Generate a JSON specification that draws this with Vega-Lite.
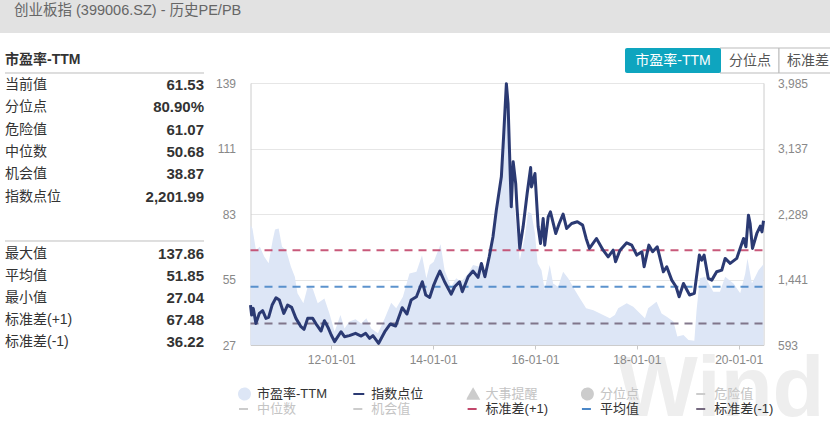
{"$schema":"https://vega.github.io/schema/vega-lite/v6.json","padding":0,"autosize":{"type":"none"},"width":830,"height":422,"background":"#ffffff","config":{"view":{"stroke":null},"font":"Liberation Sans, Noto Sans CJK SC"},"resolve":{"scale":{"x":"independent","y":"independent"}},"datasets":{"pe":[{"date":"2010-06-01","v":78.2},{"date":"2010-06-15","v":76.8},{"date":"2010-07-10","v":67.6},{"date":"2010-08-07","v":69},{"date":"2010-09-08","v":64.7},{"date":"2010-10-09","v":61.9},{"date":"2010-11-07","v":71.8},{"date":"2010-11-24","v":76.4},{"date":"2010-12-20","v":76.8},{"date":"2011-01-13","v":69},{"date":"2011-02-11","v":67.6},{"date":"2011-03-18","v":60.4},{"date":"2011-04-15","v":56.2},{"date":"2011-05-04","v":49.1},{"date":"2011-06-15","v":44.8},{"date":"2011-07-16","v":51.9},{"date":"2011-08-21","v":51.2},{"date":"2011-09-26","v":44.8},{"date":"2011-11-13","v":46.9},{"date":"2011-12-19","v":40.5},{"date":"2012-01-25","v":32.7},{"date":"2012-03-07","v":39.8},{"date":"2012-04-05","v":34.1},{"date":"2012-05-10","v":37},{"date":"2012-06-23","v":38},{"date":"2012-08-03","v":36.2},{"date":"2012-09-09","v":38.4},{"date":"2012-10-14","v":34.1},{"date":"2012-12-01","v":32},{"date":"2013-01-19","v":38.4},{"date":"2013-03-06","v":45.1},{"date":"2013-04-11","v":42.7},{"date":"2013-05-29","v":47.6},{"date":"2013-07-15","v":57.6},{"date":"2013-09-03","v":58.3},{"date":"2013-10-13","v":65.4},{"date":"2013-11-13","v":55.5},{"date":"2013-12-07","v":61.2},{"date":"2014-01-05","v":62.6},{"date":"2014-02-23","v":70.1},{"date":"2014-03-24","v":59},{"date":"2014-05-10","v":51.9},{"date":"2014-06-15","v":55.5},{"date":"2014-07-21","v":54},{"date":"2014-09-09","v":57.6},{"date":"2014-10-14","v":61.2},{"date":"2014-12-01","v":60.4},{"date":"2015-01-07","v":57.6},{"date":"2015-02-12","v":64.7},{"date":"2015-03-30","v":84.6},{"date":"2015-05-05","v":97.4},{"date":"2015-05-21","v":115.9},{"date":"2015-06-10","v":137.86},{"date":"2015-06-28","v":115.9},{"date":"2015-07-15","v":90.3},{"date":"2015-08-09","v":84.6},{"date":"2015-09-14","v":63.3},{"date":"2015-10-20","v":73.2},{"date":"2015-11-13","v":83.9},{"date":"2015-12-07","v":83.2},{"date":"2016-01-01","v":74.7},{"date":"2016-01-20","v":61.9},{"date":"2016-02-17","v":59},{"date":"2016-03-11","v":50.5},{"date":"2016-04-16","v":61.2},{"date":"2016-05-10","v":53.3},{"date":"2016-06-15","v":51.9},{"date":"2016-07-21","v":58.3},{"date":"2016-08-26","v":55.5},{"date":"2016-10-13","v":50.5},{"date":"2016-11-19","v":46.9},{"date":"2017-01-02","v":42.7},{"date":"2017-02-23","v":41.9},{"date":"2017-05-04","v":39.8},{"date":"2017-06-21","v":38.4},{"date":"2017-07-27","v":39.8},{"date":"2017-08-20","v":42.7},{"date":"2017-10-20","v":44.8},{"date":"2017-12-06","v":43.4},{"date":"2018-01-24","v":40.5},{"date":"2018-02-28","v":38.4},{"date":"2018-03-23","v":42.7},{"date":"2018-05-22","v":45.5},{"date":"2018-06-27","v":40.5},{"date":"2018-08-03","v":39.1},{"date":"2018-09-20","v":37},{"date":"2018-10-18","v":30.6},{"date":"2018-12-01","v":31.3},{"date":"2019-01-06","v":29.1},{"date":"2019-02-17","v":28.8},{"date":"2019-03-05","v":41.9},{"date":"2019-03-29","v":55.5},{"date":"2019-05-04","v":56.2},{"date":"2019-07-03","v":49.8},{"date":"2019-08-20","v":49.8},{"date":"2019-09-26","v":56.2},{"date":"2019-11-25","v":53.3},{"date":"2020-01-12","v":49.1},{"date":"2020-02-17","v":57.6},{"date":"2020-03-04","v":64},{"date":"2020-04-05","v":53.3},{"date":"2020-05-22","v":59},{"date":"2020-06-27","v":61.53}],"idx":[{"date":"2010-06-01","v":1110},{"date":"2010-06-09","v":981},{"date":"2010-06-21","v":1067},{"date":"2010-07-10","v":873},{"date":"2010-08-03","v":1002},{"date":"2010-08-27","v":1037},{"date":"2010-09-20","v":938},{"date":"2010-10-09","v":951},{"date":"2010-11-03","v":1110},{"date":"2010-12-01","v":1205},{"date":"2010-12-25","v":1175},{"date":"2011-01-26","v":1002},{"date":"2011-02-22","v":1110},{"date":"2011-03-23","v":1080},{"date":"2011-04-23","v":938},{"date":"2011-05-29","v":830},{"date":"2011-06-20","v":796},{"date":"2011-07-16","v":938},{"date":"2011-08-21","v":938},{"date":"2011-09-19","v":852},{"date":"2011-10-20","v":774},{"date":"2011-11-13","v":908},{"date":"2011-12-12","v":809},{"date":"2012-01-01","v":722},{"date":"2012-01-25","v":636},{"date":"2012-03-11","v":765},{"date":"2012-04-05","v":701},{"date":"2012-05-10","v":714},{"date":"2012-06-23","v":744},{"date":"2012-08-03","v":709},{"date":"2012-09-04","v":744},{"date":"2012-10-02","v":679},{"date":"2012-10-26","v":714},{"date":"2012-12-06","v":615},{"date":"2013-01-19","v":765},{"date":"2013-02-28","v":865},{"date":"2013-04-07","v":839},{"date":"2013-05-24","v":1076},{"date":"2013-06-27","v":994},{"date":"2013-07-27","v":1175},{"date":"2013-09-03","v":1218},{"date":"2013-10-15","v":1412},{"date":"2013-11-09","v":1240},{"date":"2013-12-07","v":1209},{"date":"2014-01-05","v":1369},{"date":"2014-01-25","v":1455},{"date":"2014-02-18","v":1550},{"date":"2014-03-24","v":1412},{"date":"2014-05-10","v":1252},{"date":"2014-06-04","v":1347},{"date":"2014-07-09","v":1412},{"date":"2014-07-29","v":1283},{"date":"2014-09-09","v":1477},{"date":"2014-10-14","v":1550},{"date":"2014-11-19","v":1468},{"date":"2014-12-13","v":1649},{"date":"2015-01-07","v":1477},{"date":"2015-02-07","v":1735},{"date":"2015-03-06","v":1994},{"date":"2015-03-30","v":2339},{"date":"2015-05-05","v":2770},{"date":"2015-05-21","v":3287},{"date":"2015-06-10","v":3976},{"date":"2015-06-22","v":3718},{"date":"2015-07-03","v":3071},{"date":"2015-07-15","v":2382},{"date":"2015-07-29","v":2964},{"date":"2015-08-16","v":2683},{"date":"2015-08-25","v":2382},{"date":"2015-09-14","v":1843},{"date":"2015-10-08","v":2123},{"date":"2015-11-06","v":2554},{"date":"2015-12-01","v":2890},{"date":"2015-12-07","v":2640},{"date":"2016-01-01","v":2813},{"date":"2016-01-24","v":2123},{"date":"2016-02-10","v":1908},{"date":"2016-02-29","v":2231},{"date":"2016-03-11","v":1886},{"date":"2016-04-05","v":2252},{"date":"2016-04-21","v":2317},{"date":"2016-05-29","v":2037},{"date":"2016-06-23","v":2166},{"date":"2016-07-21","v":2287},{"date":"2016-08-15","v":2102},{"date":"2016-09-20","v":2166},{"date":"2016-10-31","v":2188},{"date":"2016-12-08","v":2145},{"date":"2017-01-02","v":1972},{"date":"2017-01-26","v":1843},{"date":"2017-03-17","v":1972},{"date":"2017-05-04","v":1821},{"date":"2017-06-09","v":1735},{"date":"2017-07-15","v":1821},{"date":"2017-08-01","v":1671},{"date":"2017-09-02","v":1821},{"date":"2017-10-20","v":1916},{"date":"2017-11-25","v":1886},{"date":"2017-12-31","v":1757},{"date":"2018-02-06","v":1800},{"date":"2018-02-22","v":1606},{"date":"2018-03-28","v":1886},{"date":"2018-04-24","v":1800},{"date":"2018-05-27","v":1864},{"date":"2018-07-10","v":1541},{"date":"2018-08-03","v":1606},{"date":"2018-09-08","v":1433},{"date":"2018-10-09","v":1347},{"date":"2018-10-31","v":1218},{"date":"2018-12-01","v":1390},{"date":"2019-01-14","v":1240},{"date":"2019-02-17","v":1261},{"date":"2019-03-25","v":1757},{"date":"2019-04-11","v":1692},{"date":"2019-04-28","v":1757},{"date":"2019-05-28","v":1455},{"date":"2019-06-22","v":1433},{"date":"2019-07-27","v":1541},{"date":"2019-09-02","v":1563},{"date":"2019-09-26","v":1714},{"date":"2019-11-01","v":1649},{"date":"2019-12-18","v":1714},{"date":"2020-02-05","v":1972},{"date":"2020-02-22","v":1864},{"date":"2020-03-11","v":2274},{"date":"2020-03-23","v":2166},{"date":"2020-04-09","v":1843},{"date":"2020-05-10","v":2037},{"date":"2020-06-04","v":2132},{"date":"2020-06-16","v":2058},{"date":"2020-06-27","v":2202}],"levels":[{"name":"标准差(+1)","v":67.48},{"name":"平均值","v":51.85},{"name":"标准差(-1)","v":36.22}],"statsTop":[{"item":"当前值","text":"61.53"},{"item":"分位点","text":"80.90%"},{"item":"危险值","text":"61.07"},{"item":"中位数","text":"50.68"},{"item":"机会值","text":"38.87"},{"item":"指数点位","text":"2,201.99"}],"statsBottom":[{"item":"最大值","text":"137.86"},{"item":"平均值","text":"51.85"},{"item":"最小值","text":"27.04"},{"item":"标准差(+1)","text":"67.48"},{"item":"标准差(-1)","text":"36.22"}]},"layer":[{"encoding":{"x":{"type":"quantitative","scale":{"domain":[0,830],"range":[0,830]},"axis":null},"y":{"type":"quantitative","scale":{"domain":[0,422],"range":[0,422]},"axis":null}},"layer":[{"data":{"values":[{"t":"Wind"}]},"mark":{"type":"text","fontSize":85,"fontWeight":"bold","color":"#eeeeee","baseline":"alphabetic"},"encoding":{"text":{"field":"t"},"x":{"datum":721,"type":"quantitative"},"y":{"datum":416,"type":"quantitative"}}},{"data":{"values":[{"t":"header"}]},"mark":{"type":"rect","fill":"#e2e2e2"},"encoding":{"x":{"datum":0,"type":"quantitative"},"x2":{"datum":830},"y":{"datum":0,"type":"quantitative"},"y2":{"datum":33}}},{"data":{"values":[{"t":"创业板指 (399006.SZ) - 历史PE/PB"}]},"mark":{"type":"text","align":"left","fontSize":14.5,"color":"#666666"},"encoding":{"text":{"field":"t"},"x":{"datum":14,"type":"quantitative"},"y":{"datum":11,"type":"quantitative"}}},{"data":{"values":[{"tab":"分位点"}]},"mark":{"type":"rect","fill":"#ffffff","stroke":"#bbbbbb"},"encoding":{"x":{"datum":720,"type":"quantitative"},"x2":{"datum":779},"y":{"datum":48,"type":"quantitative"},"y2":{"datum":73}}},{"data":{"values":[{"tab":"标准差"}]},"mark":{"type":"rect","fill":"#ffffff","stroke":"#bbbbbb"},"encoding":{"x":{"datum":779,"type":"quantitative"},"x2":{"datum":832},"y":{"datum":48,"type":"quantitative"},"y2":{"datum":73}}},{"data":{"values":[{"tab":"市盈率-TTM"}]},"mark":{"type":"rect","fill":"#0ea5bf","cornerRadius":2},"encoding":{"x":{"datum":625,"type":"quantitative"},"x2":{"datum":721},"y":{"datum":48,"type":"quantitative"},"y2":{"datum":73}}},{"data":{"values":[{"tab":"市盈率-TTM"}]},"mark":{"type":"text","fontSize":14,"color":"#ffffff"},"encoding":{"x":{"datum":673,"type":"quantitative"},"y":{"datum":61,"type":"quantitative"},"text":{"field":"tab"}}},{"data":{"values":[{"tab":"分位点"}]},"mark":{"type":"text","fontSize":14,"color":"#555555"},"encoding":{"x":{"datum":750,"type":"quantitative"},"y":{"datum":61,"type":"quantitative"},"text":{"field":"tab"}}},{"data":{"values":[{"tab":"标准差"}]},"mark":{"type":"text","fontSize":14,"color":"#555555"},"encoding":{"x":{"datum":808,"type":"quantitative"},"y":{"datum":61,"type":"quantitative"},"text":{"field":"tab"}}}]},{"data":{"name":"statsTop"},"encoding":{"x":{"type":"quantitative","scale":{"domain":[0,1],"range":[5,204]},"axis":null},"y":{"type":"nominal","axis":null,"scale":{"type":"band","domain":["市盈率-TTM","当前值","分位点","危险值","中位数","机会值","指数点位"],"range":[50.7,206.8],"paddingInner":0,"paddingOuter":0}}},"layer":[{"mark":{"type":"rule","color":"#dddddd"},"encoding":{"y":{"datum":"当前值","type":"nominal","bandPosition":0},"x":{"datum":0,"type":"quantitative"},"x2":{"datum":1}}},{"data":{"values":[{"item":"市盈率-TTM"}]},"mark":{"type":"text","align":"left","fontSize":14,"fontWeight":"bold","color":"#333333","dy":-2},"encoding":{"y":{"field":"item","type":"nominal"},"x":{"datum":0,"type":"quantitative"},"text":{"field":"item"}}},{"mark":{"type":"text","align":"left","fontSize":14,"color":"#333333","dy":1},"encoding":{"y":{"field":"item","type":"nominal"},"x":{"datum":0,"type":"quantitative"},"text":{"field":"item"}}},{"mark":{"type":"text","align":"right","fontSize":15,"fontWeight":"bold","color":"#333333","dy":1},"encoding":{"y":{"field":"item","type":"nominal"},"x":{"datum":1,"type":"quantitative"},"text":{"field":"text"}}}]},{"data":{"name":"statsBottom"},"encoding":{"x":{"type":"quantitative","scale":{"domain":[0,1],"range":[5,204]},"axis":null},"y":{"type":"nominal","axis":null,"scale":{"type":"band","domain":["最大值","平均值","最小值","标准差(+1)","标准差(-1)"],"range":[241,351],"paddingInner":0,"paddingOuter":0}}},"layer":[{"mark":{"type":"rule","color":"#dddddd"},"encoding":{"y":{"datum":"最大值","type":"nominal","bandPosition":0},"x":{"datum":0,"type":"quantitative"},"x2":{"datum":1}}},{"mark":{"type":"text","align":"left","fontSize":14,"color":"#333333","dy":2},"encoding":{"y":{"field":"item","type":"nominal"},"x":{"datum":0,"type":"quantitative"},"text":{"field":"item"}}},{"mark":{"type":"text","align":"right","fontSize":15,"fontWeight":"bold","color":"#333333","dy":2},"encoding":{"y":{"field":"item","type":"nominal"},"x":{"datum":1,"type":"quantitative"},"text":{"field":"text"}}}]},{"data":{"name":"pe"},"mark":{"type":"area","opacity":1},"encoding":{"x":{"field":"date","type":"temporal","scale":{"domain":[{"year":2010,"month":6,"date":1},{"year":2020,"month":6,"date":27}],"range":[250.5,763.5]},"axis":{"title":null,"offset":-77,"zindex":1,"format":"%y-%m-%d","values":[{"year":2012,"month":1,"date":1},{"year":2014,"month":1,"date":1},{"year":2016,"month":1,"date":1},{"year":2018,"month":1,"date":1},{"year":2020,"month":1,"date":1}],"grid":false,"tickSize":4,"tickColor":"#c8c8c8","domainColor":"#cccccc","labelColor":"#888888","labelFontSize":12,"labelPadding":5,"labelFlush":false}},"y":{"field":"v","type":"quantitative","scale":{"domain":[27,139],"zero":false,"nice":false,"range":[345,83]},"axis":{"title":null,"values":[27,55,83,111,139],"format":"d","orient":"left","offset":-250.5,"grid":true,"gridColor":"#e6e6e6","ticks":false,"domainColor":"#cccccc","labelColor":"#888888","labelFontSize":12,"labelPadding":15}},"y2":{"datum":27},"color":{"datum":"市盈率-TTM","type":"nominal","scale":{"domain":["市盈率-TTM","指数点位","大事提醒","分位点","危险值","中位数","机会值","标准差(+1)","平均值","标准差(-1)"],"range":["#dde6f6","#2b3a73","#cccccc","#cccccc","#cccccc","#cccccc","#cccccc","#c2476b","#4a87c8","#75697f"]},"legend":{"orient":"none","direction":"horizontal","legendX":238,"legendY":387,"columns":5,"title":null,"gridAlign":"all","columnPadding":24.3,"rowPadding":1,"clipHeight":14,"labelFontSize":13,"labelOffset":6,"symbolSize":120,"values":["市盈率-TTM","指数点位","大事提醒","分位点","危险值","中位数","机会值","标准差(+1)","平均值","标准差(-1)"],"encoding":{"labels":{"fill":{"value":{"expr":"indexof(['市盈率-TTM','指数点位','标准差(+1)','平均值','标准差(-1)'],datum.value)>=0?'#333333':'#c4c4c4'"}}},"symbols":{"shape":{"value":{"expr":"datum.value==='市盈率-TTM'||datum.value==='分位点'?'circle':datum.value==='大事提醒'?'triangle-up':'stroke'"}},"fill":{"value":{"expr":"datum.value==='市盈率-TTM'?'#cddaf1':indexof(['大事提醒','分位点'],datum.value)>=0?'#cccccc':'transparent'"}},"stroke":{"value":{"expr":"{'市盈率-TTM':'#cddaf1','指数点位':'#2b3a73','标准差(+1)':'#c2476b','平均值':'#4a87c8','标准差(-1)':'#75697f'}[datum.value]||'#cccccc'"}},"strokeWidth":{"value":2},"opacity":{"value":1},"strokeDash":{"value":{"expr":"indexof(['危险值','中位数','机会值','标准差(+1)','平均值','标准差(-1)'],datum.value)>=0?[9,3,2,3]:[1,0]"}}}}}}}},{"data":{"name":"levels"},"mark":{"type":"rule","strokeWidth":2,"strokeDash":[8,6],"opacity":0.9},"encoding":{"x":{"datum":{"year":2010,"month":6,"date":1},"type":"temporal","scale":{"domain":[{"year":2010,"month":6,"date":1},{"year":2020,"month":6,"date":27}],"range":[250.5,763.5]},"axis":null},"x2":{"datum":{"year":2020,"month":6,"date":27}},"y":{"field":"v","type":"quantitative","scale":{"domain":[27,139],"zero":false,"nice":false,"range":[345,83]},"axis":null},"color":{"field":"name","type":"nominal","legend":null}}},{"data":{"name":"idx"},"mark":{"type":"line","strokeWidth":3,"strokeJoin":"round"},"encoding":{"x":{"field":"date","type":"temporal","scale":{"domain":[{"year":2010,"month":6,"date":1},{"year":2020,"month":6,"date":27}],"range":[250.5,763.5]},"axis":null},"y":{"field":"v","type":"quantitative","scale":{"domain":[593,3985],"zero":false,"nice":false,"range":[345,83]},"axis":{"title":null,"values":[593,1441,2289,3137,3985],"format":",d","orient":"right","offset":-66.5,"grid":false,"ticks":false,"domainColor":"#cccccc","labelColor":"#888888","labelFontSize":12,"labelPadding":14}},"color":{"datum":"指数点位","type":"nominal","legend":null}}}]}
